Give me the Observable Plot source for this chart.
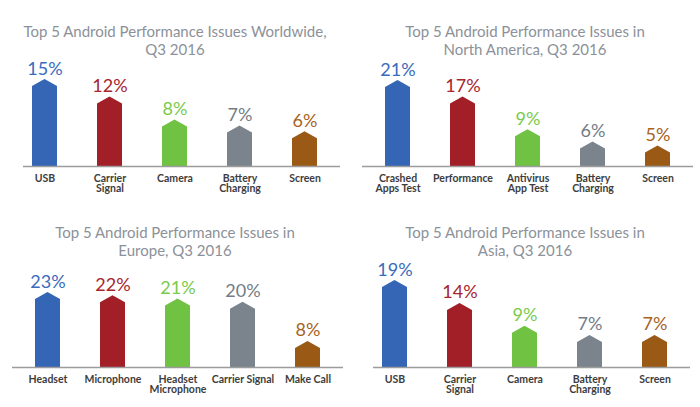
<!DOCTYPE html>
<html>
<head>
<meta charset="utf-8">
<script src="https://cdn.jsdelivr.net/npm/d3@7"></script>
<script src="https://cdn.jsdelivr.net/npm/@observablehq/plot@0.6"></script>
<style>
  html, body { margin: 0; padding: 0; background: #fff; }
  #root { position: relative; width: 700px; height: 407px; overflow: hidden; font-family: Lato, sans-serif; }
  .panel { position: absolute; width: 350px; height: 203px; }
  .title { position: absolute; left: 0; top: 20px; width: 350px; text-align: center;
           font-family: Lato, sans-serif; font-size: 15px; line-height: 18px; color: #8c9199; white-space: pre; }
</style>
</head>
<body>
<div id="root"></div>
<script>
// ---- data ----
const titles = [
  "Top 5 Android Performance Issues Worldwide,\nQ3 2016",
  "Top 5 Android Performance Issues in\nNorth America, Q3 2016",
  "Top 5 Android Performance Issues in\nEurope, Q3 2016",
  "Top 5 Android Performance Issues in\nAsia, Q3 2016"
];
const worldwideIssues = ["USB", "Carrier\nSignal", "Camera", "Battery\nCharging", "Screen"];
const worldwideValues = [15, 12, 8, 7, 6];
const northAmericaIssues = ["Crashed\nApps Test", "Performance", "Antivirus\nApp Test", "Battery\nCharging", "Screen"];
const northAmericaValues = [21, 17, 9, 6, 5];
const europeIssues = ["Headset", "Microphone", "Headset\nMicrophone", "Carrier Signal", "Make Call"];
const europeValues = [23, 22, 21, 20, 8];
const asiaIssues = ["USB", "Carrier\nSignal", "Camera", "Battery\nCharging", "Screen"];
const asiaValues = [19, 14, 9, 7, 7];
const barColors = ["#3566b5", "#a21f28", "#70c243", "#7b848d", "#9a5a16"];
const labelColors = ["#3a6bbd", "#a8252d", "#7acb4c", "#747c86", "#a7631d"];

// ---- layout ----
const panels = [
  {issues: worldwideIssues, values: worldwideValues, left: 0, top: 2, ml: 19, topPx: 87, axL: 4, axR: -10},
  {issues: northAmericaIssues, values: northAmericaValues, left: 350, top: 2, ml: 22, topPx: 86, axL: -10, axR: -10},
  {issues: europeIssues, values: europeValues, left: 0, top: 203, ml: 22, topPx: 75, axL: -10, axR: -10},
  {issues: asiaIssues, values: asiaValues, left: 350, top: 203, ml: 19, topPx: 87, axL: 4, axR: -10}
];

const W = 350, H = 150, MB = 36, ROOF = 7;
const root = document.getElementById("root");

function pentagonRender(index, scales, values, dimensions, context, next) {
  const g = next(index, scales, values, dimensions, context);
  const ns = "http://www.w3.org/2000/svg";
  g.querySelectorAll("rect").forEach(r => {
    const x = +r.getAttribute("x"), y = +r.getAttribute("y");
    const w = +r.getAttribute("width"), h = +r.getAttribute("height");
    const p = document.createElementNS(ns, "path");
    p.setAttribute("d", `M${x},${y + h}L${x},${y + ROOF}L${x + w / 2},${y}L${x + w},${y + ROOF}L${x + w},${y + h}Z`);
    p.setAttribute("fill", r.getAttribute("fill"));
    r.replaceWith(p);
  });
  return g;
}

panels.forEach((p, k) => {
  const data = p.issues.map((issue, i) => ({key: "k" + i, issue, value: p.values[i], bar: barColors[i], label: labelColors[i]}));
  const mt = H - MB - p.topPx;
  const rangeW = 65 * (5 - 0.615 + 0.4);
  const mr = W - p.ml - rangeW;
  const chart = Plot.plot({
    width: W,
    height: H,
    marginLeft: p.ml,
    marginRight: mr,
    marginTop: mt,
    marginBottom: MB,
    style: {fontFamily: "Lato, sans-serif", background: "transparent", overflow: "visible"},
    x: {domain: data.map(d => d.key), paddingInner: 0.615, paddingOuter: 0.2, axis: null},
    y: {domain: [0, d3.max(p.values)], axis: null},
    color: {type: "identity"},
    marks: [
      Plot.barY(data, {x: "key", y: "value", fill: "bar", render: pentagonRender}),
      Plot.ruleY([0], {stroke: "#9c9c9c", strokeWidth: 1.6, insetLeft: p.axL, insetRight: p.axR}),
      Plot.text(data, {x: "key", y: "value", text: d => d.value + "%", fill: "label",
        fontSize: 18, lineAnchor: "bottom", dy: -5}),
      Plot.text(data, {x: "key", text: "issue", frameAnchor: "bottom", lineAnchor: "top", dy: 8,
        fontSize: 10.5, fontWeight: "bold", fill: "#3d3d3d", lineHeight: 1.0})
    ]
  });
  const div = document.createElement("div");
  div.className = "panel";
  div.style.left = p.left + "px";
  div.style.top = p.top + "px";
  const t = document.createElement("div");
  t.className = "title";
  t.textContent = titles[k];
  div.appendChild(t);
  chart.style.position = "absolute";
  chart.style.left = "0px";
  chart.style.top = "50px";
  div.appendChild(chart);
  root.appendChild(div);
});
</script>
</body>
</html>
